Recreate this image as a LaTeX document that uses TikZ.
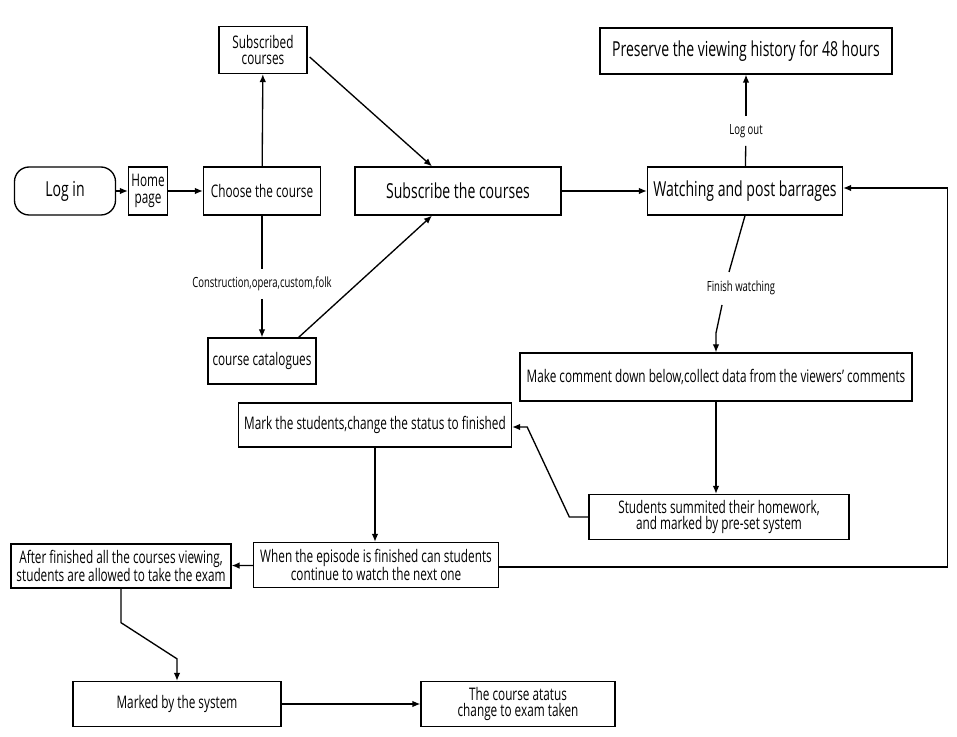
\documentclass[tikz,border=0pt]{standalone}
\usepackage{fontspec}
\setmainfont{Open Sans}[FakeStretch=0.68]
\usetikzlibrary{arrows.meta, calc}

\begin{document}
\begin{tikzpicture}[x=0.75pt, y=-0.75pt,
	box/.style={draw, line width=1pt, inner xsep=2pt, inner ysep=1pt, align=center, font=\fontsize{13}{12.5}\selectfont},
	bigbox/.style={box, font=\fontsize{15.5}{16}\selectfont},
	flowlabel/.style={inner xsep=1pt, inner ysep=6pt, text height=8pt, text depth=2pt, font=\fontsize{10.5}{11}\selectfont},
	flow/.style={line width=1pt, -{Latex[length=6pt, width=5pt]}},
	plain/.style={line width=1pt}]
	\useasboundingbox (0,0) rectangle (957,737);
	% upper row
	\node[bigbox, rounded corners=11pt, minimum width=75.75pt, minimum height=36pt] (login) at (65,191) {Log in};
	\node[box, inner xsep=1pt, minimum width=29.25pt, minimum height=36pt] (home) at (148,191) {Home\\page};
	\node[box, minimum width=87.75pt, minimum height=36pt] (choose) at (262,191) {Choose the course};
	\node[box, minimum width=66pt, minimum height=35.25pt] (subscribed) at (263,50) {Subscribed\\courses};
	\node[box, minimum width=81pt, minimum height=34.5pt] (catalog) at (262,361) {course catalogues};
	\node[bigbox, minimum width=154.5pt, minimum height=36pt] (subscribe) at (458,191) {Subscribe the courses};
	\node[bigbox, minimum width=146.25pt, minimum height=36pt] (watch) at (745,191) {Watching and post barrages};
	\node[bigbox, minimum width=219pt, minimum height=34.5pt] (preserve) at (746,51) {Preserve the viewing history for 48 hours};
	% lower part
	\node[box, minimum width=294pt, minimum height=36pt] (comment) at (716,377) {Make comment down below,collect data from the viewers' comments};
	\node[box, minimum width=204.75pt, minimum height=33pt] (mark) at (375,425) {Mark the students,change the status to finished};
	\node[box, minimum width=195pt, minimum height=33.75pt] (homework) at (719,517) {Students summited their homework,\\and marked by pre-set system};
	\node[box, minimum width=183.75pt, minimum height=33.75pt] (episode) at (376,565) {When the episode is finished can students\\continue to watch the next one};
	\node[box, minimum width=165pt, minimum height=33pt] (after) at (121,566) {After finished all the courses viewing,\\students are allowed to take the exam};
	\node[box, minimum width=156pt, minimum height=33.75pt] (marked) at (177,704) {Marked by the system};
	\node[box, minimum width=145.5pt, minimum height=33.75pt] (status) at (518,704) {The course atatus\\change to exam taken};
	% labels
	\node[flowlabel] (lblcat) at (262,284) {Construction,opera,custom,folk};
	\node[flowlabel] (lbllogout) at (746,131) {Log out};
	\node[flowlabel] (lblfinish) at (741,288) {Finish watching};
	\coordinate (fin1) at (729,272);
	\coordinate (fin2) at (722,305);
	\coordinate (fin3) at (716,333);
	% connectors
	\draw[flow] (login) -- (home);
	\draw[flow] (home) -- (choose);
	\draw[flow] (choose) -- (subscribed);
	\draw[flow] ($(subscribed.east)+(2,7)$) -- ($(subscribe.north)+(-26,0)$);
	\draw[plain] (choose) -- (lblcat);
	\draw[flow] (lblcat) -- (catalog);
	\draw[flow] ($(catalog.north east)+(-18,0)$) -- ($(subscribe.south)+(-26,0)$);
	\draw[flow] (subscribe) -- (watch);
	\draw[plain] (watch) -- (lbllogout);
	\draw[flow] (lbllogout) -- (preserve);
	\draw[plain] (watch.south) -- (fin1);
	\draw[flow] (fin2) -- (fin3) -- (comment.north);
	\draw[flow] (comment.south) -- (comment.south |- homework.north);
	\draw[flow] (homework.west) -- ++(-19,0) -- ($(mark.east)+(15,2)$) -- ($(mark.east)+(0,2)$);
	\draw[flow] (mark.south) -- (mark.south |- episode.north);
	\draw[flow] (episode) -- (after);
	\draw[flow] ($(episode.east)+(0,2)$) -- ++(448,0) |- ($(watch.east)+(0,-3)$);
	\draw[flow] (after.south) -- ++(0,34) -- ($(marked.north)+(0,-22)$) -- (marked.north);
	\draw[flow] (marked) -- (status);
\end{tikzpicture}
\end{document}
